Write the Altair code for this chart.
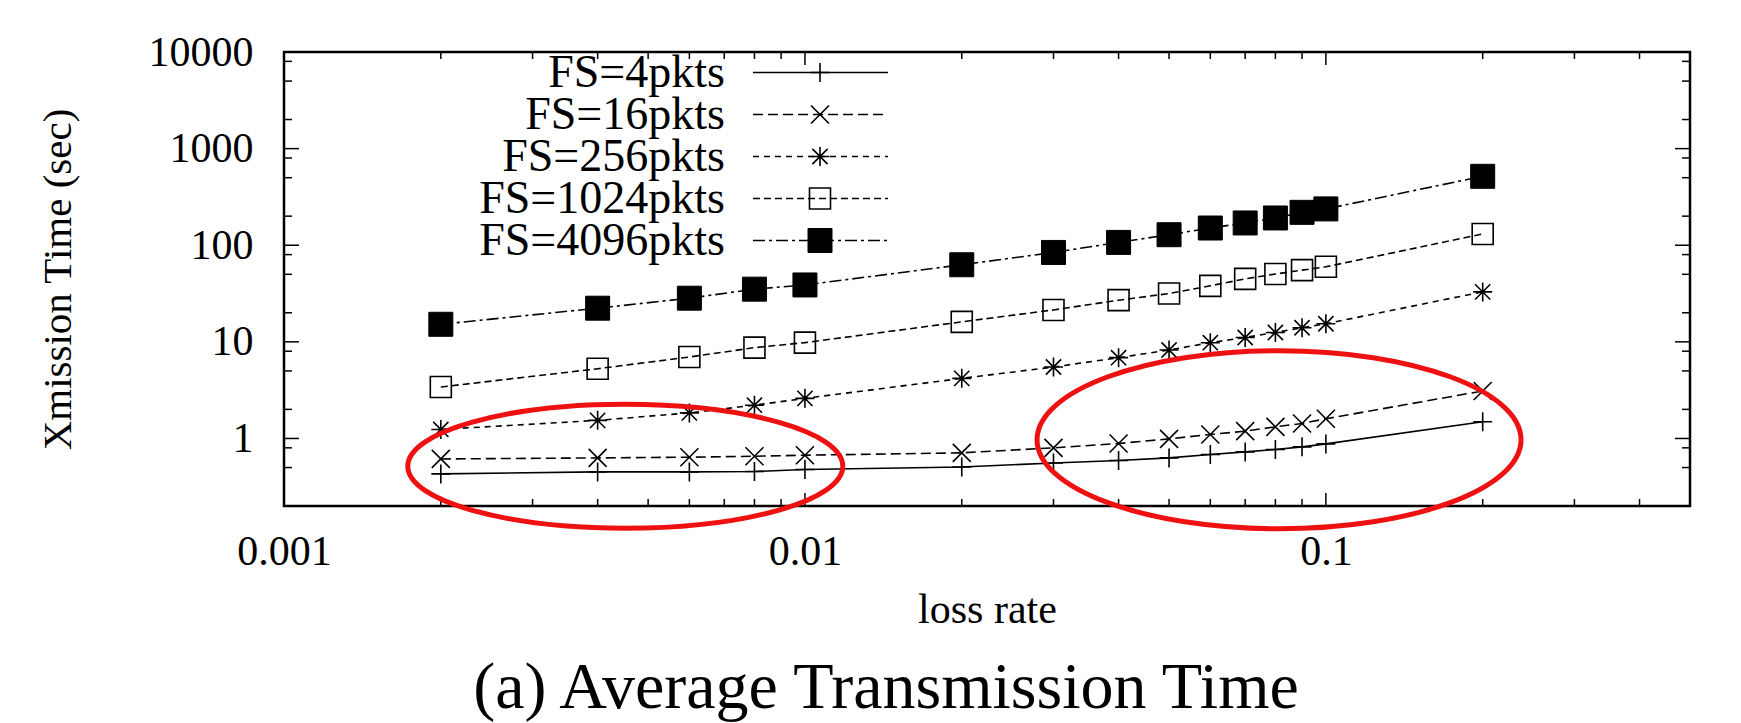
import altair as alt
import pandas as pd

# ---------------- data ----------------
loss_rate = [0.002, 0.004, 0.006, 0.008, 0.01, 0.02, 0.03, 0.04, 0.05,
             0.06, 0.07, 0.08, 0.09, 0.1, 0.2]
series_names = ["FS=4pkts", "FS=16pkts", "FS=256pkts", "FS=1024pkts", "FS=4096pkts"]
fs4 = [0.43, 0.451, 0.451, 0.455, 0.477, 0.507, 0.558, 0.592, 0.629,
       0.682, 0.726, 0.769, 0.819, 0.879, 1.49]
fs16 = [0.614, 0.629, 0.64, 0.655, 0.671, 0.71, 0.80, 0.887, 0.99,
        1.10, 1.19, 1.32, 1.43, 1.60, 3.10]
fs256 = [1.24, 1.54, 1.84, 2.21, 2.60, 4.19, 5.49, 6.86, 8.24,
         9.8, 11.1, 12.5, 14.0, 15.4, 32.9]
fs1024 = [3.41, 5.27, 6.97, 8.71, 9.82, 16.1, 21.4, 27.0, 31.6,
          38.0, 44.9, 50.3, 55.3, 59.8, 130.7]
fs4096 = [15.2, 22.3, 28.3, 35.1, 38.8, 62.8, 84.2, 107.0, 128.5,
          150.7, 170.0, 191.5, 219.0, 237.6, 517.0]
series_values = [fs4, fs16, fs256, fs1024, fs4096]

x_label_values = [0.001, 0.01, 0.1]
y_label_values = [1, 10, 100, 1000, 10000]
x_major_ticks = [0.001, 0.01, 0.1]
x_minor_ticks = [0.002, 0.003, 0.004, 0.005, 0.006, 0.007, 0.008, 0.009,
                 0.02, 0.03, 0.04, 0.05, 0.06, 0.07, 0.08, 0.09,
                 0.2, 0.3, 0.4]
y_major_ticks = [1, 10, 100, 1000, 10000]
y_minor_ticks = [0.5, 0.8, 2, 5, 8, 20, 50, 80, 200, 500, 800,
                 2000, 5000, 8000]

# annotation ellipses (centres in data units)
ellipse_x = [0.00452, 0.0813]
ellipse_y = [0.516, 0.97]

x_title = "loss rate"
y_title = "Xmission Time (sec)"
caption = "(a) Average Transmission Time"

# ---------------- style ----------------
W, H = 1406, 454
FONT = "Liberation Serif"
xs = alt.Scale(type="log", domain=[0.001, 0.5], nice=False)
ys = alt.Scale(type="log", domain=[0.2, 10000], nice=False)

PLUS = "M -1 0 L 1 0 M 0 -1 L 0 1"
CROSS = "M -1 -1 L 1 1 M -1 1 L 1 -1"
STAR = "M -1 0 L 1 0 M 0 -1 L 0 1 M -0.8 -0.8 L 0.8 0.8 M -0.8 0.8 L 0.8 -0.8"
styles = [
    dict(dash=None, shape=PLUS, size=361, filled=False),
    dict(dash=[10, 5], shape=CROSS, size=324, filled=False),
    dict(dash=[6, 5], shape=STAR, size=361, filled=False),
    dict(dash=[7, 4], shape="square", size=441, filled=False),
    dict(dash=[12, 4, 3, 4], shape="square", size=576, filled=True),
]

x_axis = alt.Axis(values=x_label_values, format="~g", title=x_title,
                  labelBaseline="alphabetic", labelPadding=58, labelFlush=False,
                  titleY=116, titleBaseline="alphabetic", titleFontSize=42)
y_axis = alt.Axis(values=y_label_values, format="d", title=y_title,
                  labelPadding=31, labelBaseline="middle", labelFlush=False,
                  titleX=-226, titleY=227, titleAngle=270,
                  titleAlign="center", titleBaseline="middle")


def X():
    return alt.X("x:Q", scale=xs, axis=x_axis)


def Y():
    return alt.Y("y:Q", scale=ys, axis=y_axis)


def line_kw(st):
    kw = dict(color="black", strokeWidth=1.6)
    if st["dash"]:
        kw["strokeDash"] = st["dash"]
    return kw


def point_kw(st):
    if st["filled"]:
        return dict(shape=st["shape"], size=st["size"], filled=True, fill="black",
                    stroke="black", strokeWidth=1, opacity=1)
    return dict(shape=st["shape"], size=st["size"], filled=False,
                stroke="black", strokeWidth=1.6, opacity=1)


layers = []
for i, (name, vals) in enumerate(zip(series_names, series_values)):
    df = pd.DataFrame({"x": loss_rate, "y": vals, "series": name})
    st = styles[i]
    layers.append(alt.Chart(df).mark_line(**line_kw(st)).encode(x=X(), y=Y()))
    layers.append(alt.Chart(df).mark_point(**point_kw(st)).encode(x=X(), y=Y()))


# inward ticks on all four sides
def xticks(vals, length):
    d = pd.DataFrame({"x": vals})
    bottom = alt.Chart(d).mark_rule(color="black", strokeWidth=1.5).encode(
        x=X(), y=alt.value(H), y2=alt.value(H - length))
    top = alt.Chart(d).mark_rule(color="black", strokeWidth=1.5).encode(
        x=X(), y=alt.value(0), y2=alt.value(length))
    return [bottom, top]


def yticks(vals, length):
    d = pd.DataFrame({"y": vals})
    left = alt.Chart(d).mark_rule(color="black", strokeWidth=1.5).encode(
        y=Y(), x=alt.value(0), x2=alt.value(length))
    right = alt.Chart(d).mark_rule(color="black", strokeWidth=1.5).encode(
        y=Y(), x=alt.value(W), x2=alt.value(W - length))
    return [left, right]


layers += xticks(x_major_ticks, 13) + xticks(x_minor_ticks, 7)
layers += yticks(y_major_ticks, 15) + yticks(y_minor_ticks, 8)

# legend (manual, gnuplot style)
for i, name in enumerate(series_names):
    st = styles[i]
    ry = 20.5 + 42 * i
    d = alt.Data(values=[{"label": name}])
    layers.append(alt.Chart(d).mark_text(align="right", baseline="middle", font=FONT,
                                         fontSize=46, color="black").encode(
        x=alt.value(441), y=alt.value(ry), text="label:N"))
    layers.append(alt.Chart(d).mark_rule(**line_kw(st)).encode(
        x=alt.value(469), x2=alt.value(604), y=alt.value(ry)))
    layers.append(alt.Chart(d).mark_point(**point_kw(st)).encode(
        x=alt.value(536), y=alt.value(ry)))

# red annotation ellipses
ell_shapes = ["M -1 0 A 1 0.285 0 1 0 1 0 A 1 0.285 0 1 0 -1 0",
              "M -1 0 A 1 0.368 0 1 0 1 0 A 1 0.368 0 1 0 -1 0"]
ell_sizes = [435 ** 2, 484 ** 2]
for ex, ey, shp, sz in zip(ellipse_x, ellipse_y, ell_shapes, ell_sizes):
    d = pd.DataFrame({"x": [ex], "y": [ey]})
    layers.append(alt.Chart(d).mark_point(shape=shp, size=sz, filled=False,
                                          stroke="#ee1111", strokeWidth=5,
                                          opacity=1).encode(x=X(), y=Y()))

# caption
layers.append(alt.Chart(alt.Data(values=[{"t": caption}])).mark_text(
    align="center", baseline="alphabetic", font=FONT, fontSize=66, color="black").encode(
    x=alt.value(602), y=alt.value(656), text="t:N"))

chart = alt.layer(*layers).properties(
    width=W, height=H,
    autosize=alt.AutoSizeParams(type="none"),
    padding={"left": 276, "top": 44, "right": 30, "bottom": 217},
    background="white",
).configure_view(
    stroke="black", strokeWidth=2.5
).configure_axis(
    grid=False, domain=False, ticks=False, tickSize=0,
    labelFont=FONT, labelFontSize=42, labelColor="black",
    titleFont=FONT, titleFontSize=41, titleFontWeight="normal", titleColor="black",
)

chart.save("out.html", embed_options={"renderer": "svg", "actions": False})
